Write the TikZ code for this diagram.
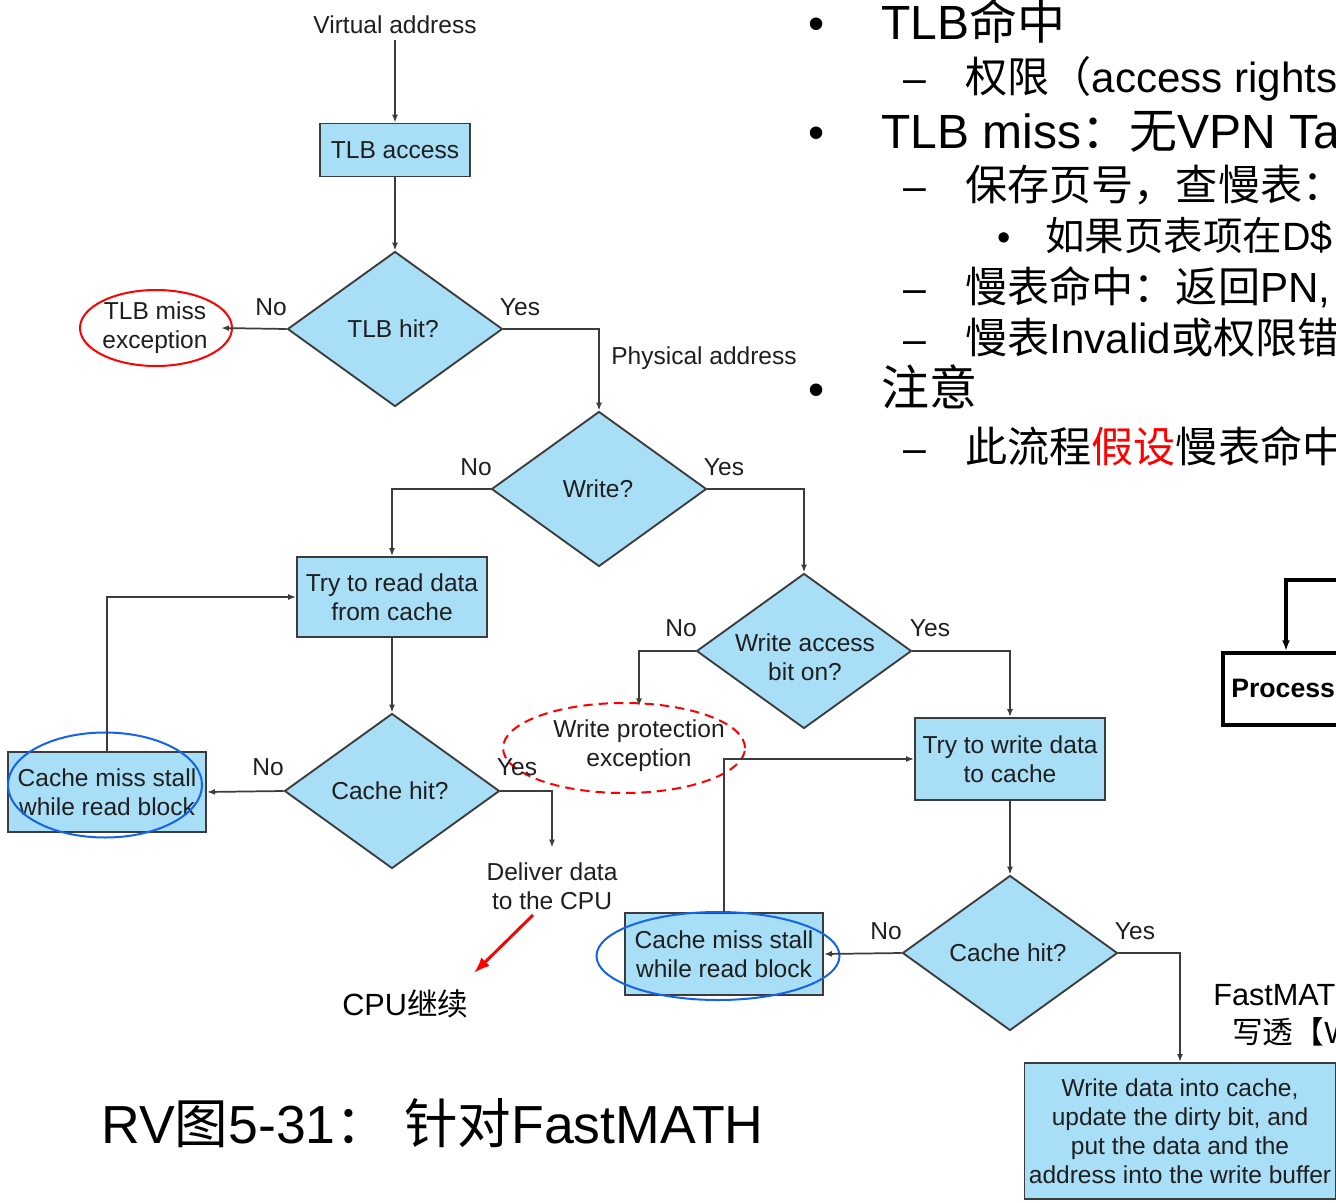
\documentclass[tikz,border=0pt]{standalone}
\usepackage{fontspec}
\setmainfont{Liberation Sans}
\newfontfamily\cjk{Noto Sans CJK SC}
\usetikzlibrary{shapes.geometric,arrows.meta}
\definecolor{fillblue}{RGB}{168,222,246}
\definecolor{edgegray}{RGB}{60,60,60}
\definecolor{ringblue}{RGB}{20,100,235}
\begin{document}
\begin{tikzpicture}[x=0.75pt,y=-0.75pt,
  every node/.style={inner sep=0pt},
  dfont/.style={font=\fontsize{18.4}{21.75}\selectfont, text=black!88},
  box/.style={draw=edgegray, line width=1.4pt, fill=fillblue, rectangle, align=center, dfont},
  dia/.style={draw=edgegray, line width=1.4pt, fill=fillblue, diamond, minimum width=161.25pt, minimum height=116.25pt},
  dlab/.style={align=center, dfont},
  conn/.style={draw=edgegray, line width=1.3pt, -{Latex[length=6pt,width=4.5pt]}},
  lab/.style={dfont},
  redring/.style={draw=red, line width=1.5pt, ellipse},
  bluering/.style={draw=ringblue, line width=1.5pt, ellipse},
  lone/.style={anchor=base west, font=\fontsize{36}{40}\selectfont},
  ltwo/.style={anchor=base west, font=\fontsize{31.6}{36}\selectfont},
  lthree/.style={anchor=base west, font=\fontsize{29.6}{33}\selectfont},
  bone/.style={anchor=base, font=\fontsize{34.5}{40}\selectfont},
  btwo/.style={anchor=base, font=\fontsize{30.75}{36}\selectfont},
  bthree/.style={anchor=base, font=\fontsize{28.5}{33}\selectfont},
]
\useasboundingbox (0,0) rectangle (1336,1203);
\fill[white] (0,0) rectangle (1336,1203);
\clip (0,0) rectangle (1336,1203);

% ---------- flowchart ----------
\node[dfont, inner ysep=4pt] (va) at (395,25) {Virtual address};
\node[box, minimum width=112.5pt, minimum height=39.75pt] (tlbacc) at (395,150) {TLB access};
\node[dia] (tlbhit) at (395,329) {};
\node[dlab] at (393,329) {TLB hit?};
\node[dfont, align=center, inner xsep=10pt] (tlbmiss) at (155,328) {TLB miss\\exception};
\node[redring, minimum width=114pt, minimum height=57pt] (tlbring) at (156,328) {};

\node[dfont, anchor=west] (pa) at (611,358) {Physical address};
\node[dia] (write) at (599,489) {};
\node[dlab] at (598,489) {Write?};

\node[box, minimum width=142.5pt, minimum height=60pt] (tryread) at (392,597) {Try to read data\\from cache};
\node[dia] (ch1) at (392,791) {};
\node[dlab] at (390,791) {Cache hit?};
\node[box, minimum width=148.5pt, minimum height=60pt] (cms1) at (107,792) {Cache miss stall\\while read block};
\node[bluering, minimum width=145.5pt, minimum height=78.75pt] (ring1) at (105,785) {};
\node[dfont, align=center, inner ysep=11pt] (deliver) at (552,886) {Deliver data\\to the CPU};

\node[dia] (wacc) at (804,651) {};
\node[dlab] at (805,657) {Write access\\bit on?};
\node[dfont, align=center, inner ysep=10pt] (wpe) at (639,746) {Write protection\\exception};
\node[draw=red, line width=1.5pt, dash pattern=on 7pt off 4.5pt, ellipse, minimum width=181.5pt, minimum height=67.5pt] (wpering) at (624,748) {};

\node[box, minimum width=142.5pt, minimum height=61.5pt] (trywrite) at (1010,759) {Try to write data\\to cache};
\node[dia] (ch2) at (1010,953) {};
\node[dlab] at (1008,953) {Cache hit?};
\node[box, minimum width=148.5pt, minimum height=61.5pt] (cms2) at (724,954) {Cache miss stall\\while read block};
\node[bluering, minimum width=182.25pt, minimum height=66pt] (ring2) at (718,956) {};
\node[box, minimum width=233.25pt, minimum height=102pt] (wdata) at (1180,1131) {Write data into cache,\\update the dirty bit, and\\put the data and the\\address into the write buffer};

% connectors
\draw[conn] (va.south) -- (tlbacc.north);
\draw[conn] (tlbacc.south) -- (tlbhit.north);
\draw[conn] (tlbhit.west) -- (tlbmiss.east);
\draw[conn] (tlbhit.east) -| (write.north);
\draw[conn] (write.west) -| (tryread.north);
\draw[conn] (write.east) -| (wacc.north);
\draw[conn] (tryread.south) -- (ch1.north);
\draw[conn] (ch1.west) -- (cms1.east);
\draw[conn] (cms1.north) |- (tryread.west);
\draw[conn] (ch1.east) -| (deliver.north);
\draw[conn] (wacc.west) -| (wpe.north);
\draw[conn] (wacc.east) -| (trywrite.north);
\draw[conn] (trywrite.south) -- (ch2.north);
\draw[conn] (ch2.west) -- (cms2.east);
\draw[conn] (cms2.north) |- (trywrite.west);
\draw[conn] (ch2.east) -| (wdata.north);

% branch labels
\node[lab] (n1) at (271,307) {No};
\node[lab] (y1) at (520,307) {Yes};
\node[lab] (n2) at (476,467) {No};
\node[lab] (y2) at (724,467) {Yes};
\node[lab] (n3) at (681,628) {No};
\node[lab] (y3) at (930,628) {Yes};
\node[lab] (n4) at (268,767) {No};
\node[lab] (y4) at (517,767) {Yes};
\node[lab] (n5) at (886,931) {No};
\node[lab] (y5) at (1135,931) {Yes};

% red annotation arrow
\coordinate (ra1) at (533,915);
\coordinate (ra2) at (474,973);
\draw[red, line width=2.2pt, -{Latex[length=12pt,width=9pt]}] (ra1) -- (ra2);
\node[anchor=base west, font=\fontsize{23}{28}\selectfont] (cpucont) at (342,1015) {CPU{\cjk 继续}};

% bottom title
\node[anchor=base west, font=\fontsize{40.2}{48}\selectfont] (title) at (101,1143) {RV{\cjk 图}5-31{\cjk ：} {\cjk 针对}FastMATH};

% right side fragments
\node[anchor=base west, font=\fontsize{23}{28}\selectfont] (fm1) at (1213,1005) {FastMAT};
\node[anchor=base west, font=\fontsize{23}{28}\selectfont] (fm2) at (1232,1043) {{\cjk 写透【}W};

\node[anchor=north west, draw=black, line width=3pt, minimum width=200pt, minimum height=54pt] (proc) at (1221,651) {};
\node[anchor=west, font=\bfseries\fontsize{20}{24}\selectfont] (proct) at (1231,688) {Process};
\coordinate (pcr) at (1340,580);
\coordinate (pc) at (1286,580);
\draw[black, line width=2.4pt, -{Latex[length=8pt,width=6pt]}] (pcr) -- (pc) -- (pc |- proc.north);

% bullet text
\node[bone] (b1) at (817,39) {•};
\node[lone] (t1) at (881,39) {TLB{\cjk 命中}};
\node[btwo] (d1) at (915,92) {–};
\node[ltwo] (t2) at (965,92) {{\cjk 权限（}access rights};
\node[bone] (b2) at (817,148) {•};
\node[lone] (t3) at (881,148) {TLB miss{\cjk ：无}VPN Ta};
\node[btwo] (d2) at (915,200) {–};
\node[ltwo] (t4) at (965,200) {{\cjk 保存页号，查慢表：}};
\node[bthree] (b3) at (1004,250) {•};
\node[lthree] (t5) at (1045,250) {{\cjk 如果页表项在}D\$};
\node[btwo] (d3) at (915,302) {–};
\node[ltwo] (t6) at (965,302) {{\cjk 慢表命中：返回}PN,};
\node[btwo] (d4) at (915,353) {–};
\node[ltwo] (t7) at (965,353) {{\cjk 慢表}Invalid{\cjk 或权限错}};
\node[bone] (b4) at (817,405) {•};
\node[lone] (t8) at (881,405) {{\cjk 注意}};
\node[btwo] (d5) at (915,462) {–};
\node[ltwo] (t9) at (965,462) {{\cjk 此流程\textcolor{red}{假设}慢表命中}};
\end{tikzpicture}
\end{document}
